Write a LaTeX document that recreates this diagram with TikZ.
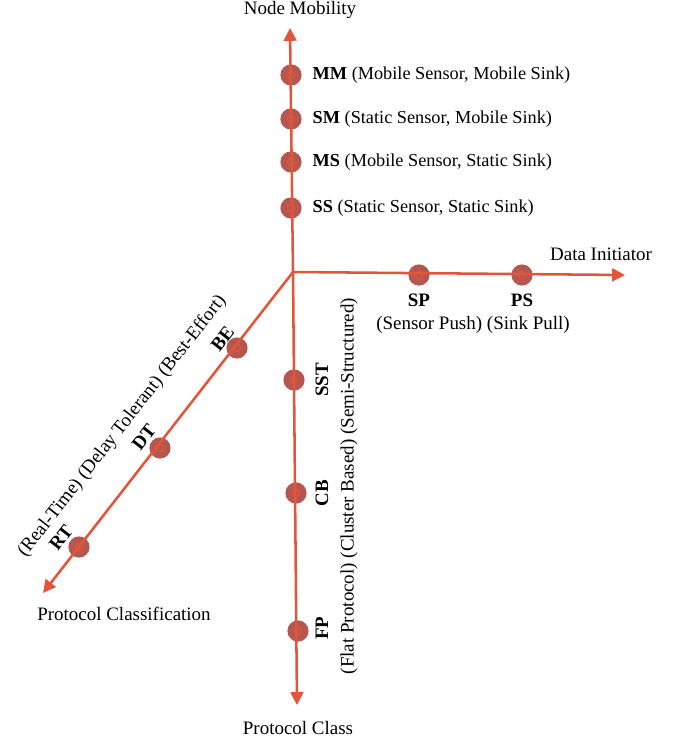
\documentclass[tikz,border=0pt]{standalone}
\usepackage{fontspec}
\setmainfont{Liberation Serif}
\usetikzlibrary{arrows.meta}

\definecolor{axisred}{HTML}{E2553A}
\definecolor{dotred}{HTML}{B5574E}

\begin{document}
\begin{tikzpicture}[
  font=\fontsize{13.5}{16}\selectfont,
  axis/.style={-{Triangle[length=3.2mm,width=3.2mm]}, line width=1.8pt, draw=axisred},
  dot/.style={circle, fill=dotred, minimum size=5.3mm, inner sep=0pt,
    path picture={\draw[axisred, line width=0.7pt] (path picture bounding box.center) circle (0.9mm);}},
  tag/.style={font=\fontsize{13.5}{16}\selectfont\bfseries, inner sep=1pt},
  lbl/.style={inner sep=1pt},
  item/.style={anchor=west, inner sep=1pt, font=\fontsize{13}{16}\selectfont}
]
\useasboundingbox (-7.325,-11.725) rectangle (9.8,6.8);

\coordinate (origin) at (0,0);
\coordinate (mobtip) at (-0.075,6.1);
\coordinate (initip) at (8.3,-0.075);
\coordinate (clstip) at (0.1,-10.825);
\coordinate (rtetip) at (-6.25,-8.025);

% node mobility
\node[dot] (mm) at (-0.05,4.925) {};
\node[dot] (sm) at (-0.05,3.825) {};
\node[dot] (ms) at (-0.05,2.75) {};
\node[dot] (ss) at (-0.05,1.6) {};

% data initiator
\node[dot] (sp) at (3.15,-0.075) {};
\node[dot] (ps) at (5.725,-0.075) {};

% protocol class
\node[dot] (sst) at (0.025,-2.7) {};
\node[dot] (cb) at (0.075,-5.525) {};
\node[dot] (fp) at (0.125,-8.975) {};

% protocol classification
\node[dot] (be) at (-1.4,-1.9) {};
\node[dot] (dt) at (-3.325,-4.4) {};
\node[dot] (rt) at (-5.35,-6.875) {};

\draw[axis] (origin) -- (mobtip);
\draw[axis] (origin) -- (initip);
\draw[axis] (origin) -- (clstip);
\draw[axis] (origin) -- (rtetip);

\node[lbl] (mobtitle) at (0.175,6.55) {Node Mobility};
\node[item] (mmtext) at (0.45,4.925) {\textbf{MM} (Mobile Sensor, Mobile Sink)};
\node[item] (smtext) at (0.45,3.825) {\textbf{SM} (Static Sensor, Mobile Sink)};
\node[item] (mstext) at (0.45,2.75) {\textbf{MS} (Mobile Sensor, Static Sink)};
\node[item] (sstext) at (0.45,1.6) {\textbf{SS} (Static Sensor, Static Sink)};

\node[lbl] (initle) at (7.7,0.45) {Data Initiator};
\node[tag] (sptag) at (3.15,-0.7) {SP};
\node[tag] (pstag) at (5.725,-0.7) {PS};
\node[lbl] (iniwhat) at (4.5,-1.325) {(Sensor Push) (Sink Pull)};

\node[tag, rotate=90] (ssttag) at (0.725,-2.7) {SST};
\node[tag, rotate=90] (cbtag) at (0.725,-5.525) {CB};
\node[tag, rotate=90] (fptag) at (0.725,-8.9) {FP};
\node[lbl, rotate=90] (clswhat) at (1.4,-5.35) {(Flat Protocol) (Cluster Based) (Semi-Structured)};
\node[lbl] (clstitle) at (0.125,-11.4) {Protocol Class};

\node[tag, rotate=52] (betag) at (-1.76,-1.66) {BE};
\node[tag, rotate=52] (dttag) at (-3.73,-4.135) {DT};
\node[tag, rotate=52] (rttag) at (-5.8,-6.64) {RT};
\node[lbl, rotate=52] (rtewhat) at (-4.27,-3.86) {(Real-Time) (Delay Tolerant) (Best-Effort)};
\node[lbl] (rtetitle) at (-4.225,-8.55) {Protocol Classification};

\end{tikzpicture}
\end{document}
